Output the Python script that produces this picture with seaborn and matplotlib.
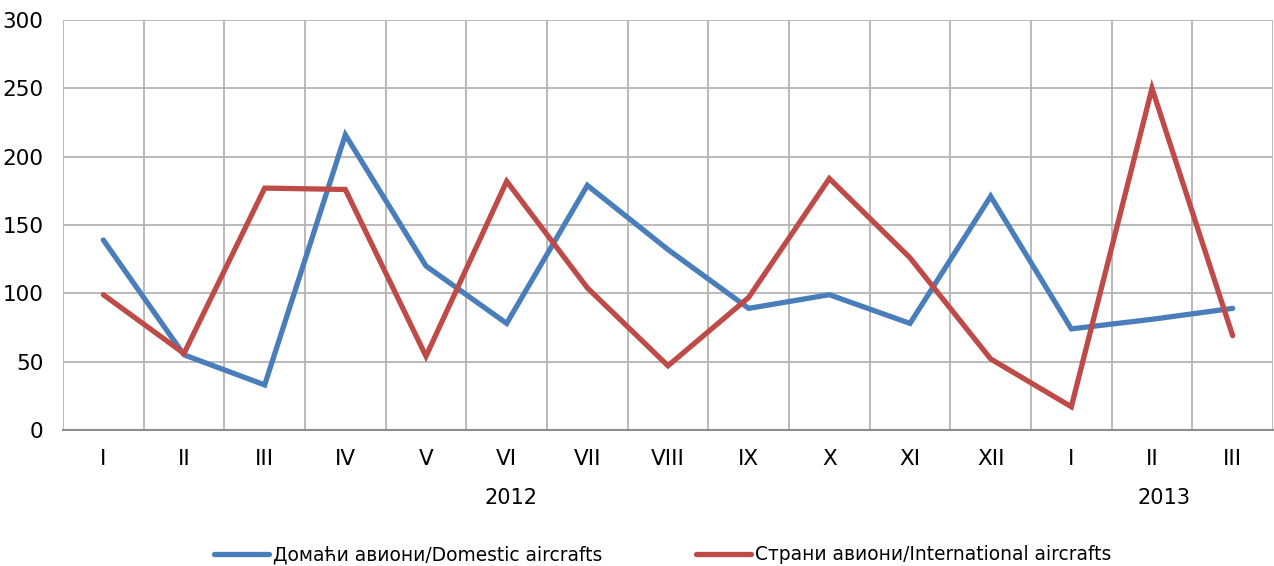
import pandas as pd
import matplotlib
matplotlib.use("Agg")
import matplotlib.pyplot as plt
import matplotlib.transforms as mtransforms
import seaborn as sns

# data
months = ["I", "II", "III", "IV", "V", "VI", "VII", "VIII", "IX", "X", "XI", "XII", "I", "II", "III"]
domestic = [139, 55, 33, 216, 120, 78, 179, 132, 89, 99, 78, 171, 74, 81, 89]
international = [99, 56, 177, 176, 54, 182, 104, 47, 97, 184, 126, 52, 17, 250, 69]
years = ["2012", "2013"]
year_pos = [5.05, 13.15]
series_names = ["Домаћи авиони/Domestic aircrafts", "Страни авиони/International aircrafts"]

df = pd.DataFrame({
    "pos": list(range(len(months))) * 2,
    "value": domestic + international,
    "series": [series_names[0]] * len(months) + [series_names[1]] * len(months),
})

sns.set_style("white")
plt.rcParams["font.family"] = ["DejaVu Sans Condensed", "DejaVu Sans"]
plt.rcParams["text.color"] = "black"

fig = plt.figure(figsize=(12.74, 5.66), dpi=100)
ax = fig.add_axes([63 / 1274, 1 - 430 / 566, 1210 / 1274, 410 / 566])

sns.lineplot(data=df, x="pos", y="value", hue="series",
             palette=["#4A7EBB", "#BE4B48"], linewidth=3.8, ax=ax,
             solid_capstyle="round", solid_joinstyle="miter")

ax.set_xlim(-0.5, len(months) - 0.5)
ax.set_ylim(0, 300)
ax.set_yticks(range(0, 301, 50))
ax.set_xticks(range(len(months)))
ax.set_xticklabels(months)
ax.set_xticks([i - 0.5 for i in range(len(months) + 1)], minor=True)
ax.grid(False)
ax.grid(True, which="minor", axis="x", color="#B4B4B4", linewidth=1.3)
ax.grid(True, which="major", axis="y", color="#B4B4B4", linewidth=1.3)
ax.set_axisbelow(True)
ax.tick_params(axis="both", which="both", length=0, labelsize=15.5, colors="black")
ax.tick_params(axis="x", pad=14)
ax.tick_params(axis="y", pad=14)
for s in ["top", "right", "left"]:
    ax.spines[s].set_visible(False)
ax.spines["bottom"].set_color("#8C8C8C")
ax.spines["bottom"].set_linewidth(1.5)
ax.set_xlabel("")
ax.set_ylabel("")

trans = mtransforms.blended_transform_factory(ax.transData, ax.transAxes)
for yr, xp in zip(years, year_pos):
    ax.text(xp, -68 / 410, yr, transform=trans, ha="center", va="center",
            fontsize=15, color="black")

handles, labels = ax.get_legend_handles_labels()
ax.legend_.remove()
leg = fig.legend(handles, labels, loc="center", bbox_to_anchor=(0.52, 0.02), ncol=2,
                 frameon=False, fontsize=13.4, handlelength=3.0, handletextpad=0.2,
                 columnspacing=5.0)
for t in leg.get_texts():
    t.set_color("black")

plt.savefig("out.png", dpi=100)
